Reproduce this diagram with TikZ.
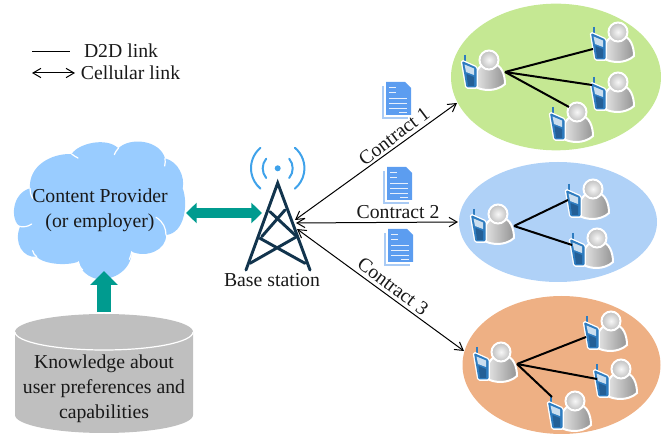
\documentclass[tikz,border=0pt]{standalone}
\usepackage{fontspec}
\setmainfont{Liberation Serif}
\usetikzlibrary{arrows.meta,shapes.geometric,calc}
\definecolor{teal1}{HTML}{009B8F}
\definecolor{towerc}{HTML}{12344D}
\definecolor{wavec}{HTML}{3FA2EA}
\definecolor{cloudc}{HTML}{99CCFF}
\definecolor{docc}{HTML}{5C9DF0}
\definecolor{docb}{HTML}{A9CBF5}
\definecolor{phonec}{HTML}{2E7CC0}
\definecolor{phoned}{HTML}{245F96}
\tikzset{
  lbl/.style={font=\fontsize{14.8}{18.8}\selectfont,align=center,inner sep=0pt,text=black!90},
  zone/.style={ellipse,draw=none,inner sep=0pt},
  d2d/.style={line width=1.5pt,black},
  cell/.style={line width=0.75pt,black,{Straight Barb[length=6pt,width=7pt]}-{Straight Barb[length=6pt,width=7pt]}},
  bigarrow/.style={teal1,line width=#1},
  tower/.style={towerc,line width=2.2pt,line cap=round},
  wave/.style={wavec,line width=1.5pt,line cap=round},
  userfig/.pic={
    \coordinate (-link) at (16,1);
    \path[draw=white,line width=1.5pt,left color=black!8,middle color=black!6,right color=black!42]
      (-15,15) .. controls (-16,3) and (-10,-6) .. (-4,-7) -- (5,-7)
      .. controls (12,-6) and (16,3) .. (16,13)
      .. controls (12,17) and (5,19) .. (0,19) .. controls (-5,19) and (-11,18) .. (-15,15) -- cycle;
    \path[draw=white,line width=1.5pt,inner color=black!3,outer color=black!25] (0,-11) circle[radius=9.5];
    \draw[phonec,line width=1pt] (-24,-16) -- (-24,-8);
    \path[preaction={draw=white,line width=2pt},fill=phonec,rounded corners=1pt]
      (-27,-10) -- (-12.5,-3.5) -- (-12.5,16.5) -- (-22.5,16.5) -- cycle;
    \fill[phonec!25!white] (-24.5,-6.5) -- (-15,-2.5) -- (-15,4) -- (-23,1) -- cycle;
    \fill[phoned] (-22.5,3) -- (-15,6) -- (-15,15) -- (-21,15) -- cycle;
  },
  docfig/.pic={
    \fill[docb] (-15,-14) rectangle (11,19);
    \fill[white] (-13,-16) rectangle (13,17);
    \fill[docc] (-11,-18) -- (8,-18) -- (14,-12) -- (14,15) -- (-11,15) -- cycle;
    \draw[white!85!docc,line width=0.7pt]
      (-8,-13) -- (-1,-13) (-8,-8) -- (-1,-8)
      (-8,-2) -- (10,-2) (-8,3) -- (10,3) (-8,8) -- (10,8) (2,12) -- (10,12);
  }
}
\begin{document}
\begin{tikzpicture}[x=0.75pt,y=-0.75pt]
\useasboundingbox (0,0) rectangle (661,434);

% zones
\node[zone,fill={rgb,255:red,197;green,232;blue,147},minimum width=157.5pt,minimum height=110pt] (e1) at (556,77) {};
\node[zone,fill={rgb,255:red,175;green,209;blue,247},minimum width=148.5pt,minimum height=90pt] (e2) at (558,222) {};
\node[zone,fill={rgb,255:red,238;green,176;blue,132},minimum width=148.5pt,minimum height=103.5pt] (e3) at (561.5,365) {};

% users
\pic (a0) at (489,71) {userfig};
\pic (a1) at (618,43) {userfig};
\pic (a2) at (618,93) {userfig};
\pic (a3) at (577,123) {userfig};
\pic (b0) at (498,225) {userfig};
\pic (b1) at (593,200) {userfig};
\pic (b2) at (597,249) {userfig};
\pic (c0) at (501,363) {userfig};
\pic (c1) at (611,332) {userfig};
\pic (c2) at (621,380) {userfig};
\pic (c3) at (575,412) {userfig};

\coordinate (a1p) at (593,49);
\coordinate (a2p) at (592,85);
\coordinate (a3p) at (569,107);
\coordinate (b1p) at (568,200);
\coordinate (b2p) at (572,245);
\coordinate (c1p) at (586,337);
\coordinate (c2p) at (597,379);
\coordinate (c3p) at (552,397);

\draw[d2d] (a0-link) -- (a1p);
\draw[d2d] (a0-link) -- (a2p);
\draw[d2d] (a0-link) -- (a3p);
\draw[d2d] (b0-link) -- (b1p);
\draw[d2d] (b0-link) -- (b2p);
\draw[d2d] (c0-link) -- (c1p);
\draw[d2d] (c0-link) -- (c2p);
\draw[d2d] (c0-link) -- (c3p);

% documents
\pic (d1) at (397,100) {docfig};
\pic (d2) at (398,185) {docfig};
\pic (d3) at (399,247) {docfig};

% cloud
\begin{scope}[x=0.25pt,y=-0.25pt,shift={(0,390)}]
  \fill[cloudc]
    (90,175) .. controls (85,110) and (150,70) .. (215,72)
    .. controls (235,40) and (320,20) .. (355,55)
    .. controls (390,20) and (480,30) .. (495,85)
    .. controls (535,95) and (555,140) .. (548,175)
    .. controls (565,220) and (555,310) .. (498,315)
    .. controls (500,360) and (440,385) .. (395,365)
    .. controls (395,420) and (340,450) .. (300,448)
    .. controls (265,445) and (240,420) .. (235,395)
    .. controls (195,410) and (125,400) .. (110,380)
    .. controls (70,385) and (40,340) .. (60,290)
    .. controls (30,270) and (35,190) .. (90,175) -- cycle;
  \draw[white,line width=0.9pt,line cap=round]
    (55,288) .. controls (68,293) and (85,290) .. (95,282)
    (498,315) .. controls (498,295) and (490,275) .. (468,262)
    (395,365) .. controls (394,372) and (392,380) .. (388,388)
    (235,395) .. controls (236,403) and (240,412) .. (248,420)
    (110,380) .. controls (104,376) and (100,370) .. (98,362)
    (495,85) .. controls (496,92) and (496,100) .. (494,108)
    (90,175) .. controls (90,185) and (92,195) .. (98,205)
    (215,72) .. controls (220,76) and (226,80) .. (234,84)
    (355,55) .. controls (350,60) and (346,66) .. (343,74);
\end{scope}
\node[lbl] (cp) at (100,210) {Content Provider\\(or employer)};

% database
\path[fill=black!25] (15,332) -- (15,415) arc[start angle=180,end angle=360,x radius=66.75pt,y radius=13.5pt] -- (193,332) -- cycle;
\node[ellipse,fill=black!25,minimum width=133.5pt,minimum height=27pt,inner sep=0pt] (dbtop) at (104,332) {};
\draw[white,line width=0.9pt] (15,332) arc[start angle=180,end angle=360,x radius=66.75pt,y radius=13.5pt];
\node[lbl] (kb) at (104,388.5) {Knowledge about\\user preferences and\\capabilities};

% tower
\coordinate (apex) at (277.7,183);
\coordinate (bl) at (246,270);
\coordinate (br) at (310,270);
\draw[tower] (bl) -- (apex) -- (br);
\draw[tower] (270,211.7) -- (295,235) (285,210) -- (261.7,236.7);
\draw[tower] (260,238.3) -- (305,263.3) (296.7,236.7) -- (250,263.3);
\fill[wavec] (277.7,168.3) circle[radius=3];
\draw[wave] (294.9,147.8) arc[start angle=50,end angle=-50,radius=20pt];
\draw[wave] (260.5,147.8) arc[start angle=130,end angle=230,radius=20pt];
\draw[wave] (289.2,158.7) arc[start angle=40,end angle=-40,radius=11.25pt];
\draw[wave] (266.2,158.7) arc[start angle=140,end angle=220,radius=11.25pt];
\node[lbl] (bs) at (272,280) {Base station};

% thick arrows
\coordinate (cpr) at (186,213);
\coordinate (bsl) at (262,213);
\draw[bigarrow=7.5pt,{Triangle[length=8pt,width=15pt]}-{Triangle[length=8pt,width=15pt]}] (cpr) -- (bsl);
\coordinate (kbt) at (104,312);
\coordinate (cpb) at (104,271);
\draw[bigarrow=10.5pt,-{Triangle[length=10.5pt,width=20pt]}] (kbt) -- (cpb);

% cellular links
\coordinate (bs1) at (295,220);
\coordinate (bs2) at (296,223);
\coordinate (bs3) at (297,229);
\coordinate (e1p) at (457,103);
\coordinate (e2p) at (458,222);
\coordinate (e3p) at (464,351);
\draw[cell] (bs1) -- (e1p);
\draw[cell] (bs2) -- (e2p);
\draw[cell] (bs3) -- (e3p);
\node[lbl,rotate=37] (k1) at (394,136) {Contract 1};
\node[lbl] (k2) at (398,212) {Contract 2};
\node[lbl,rotate=-37] (k3) at (393,286) {Contract 3};

% legend
\coordinate (l1a) at (32,52);
\coordinate (l1b) at (70,52);
\coordinate (l2a) at (32,73);
\coordinate (l2b) at (75,73);
\draw[line width=0.75pt] (l1a) -- (l1b);
\draw[cell] (l2a) -- (l2b);
\node[lbl] (t1) at (121,51) {D2D link};
\node[lbl] (t2) at (130.5,73) {Cellular link};
\end{tikzpicture}
\end{document}
